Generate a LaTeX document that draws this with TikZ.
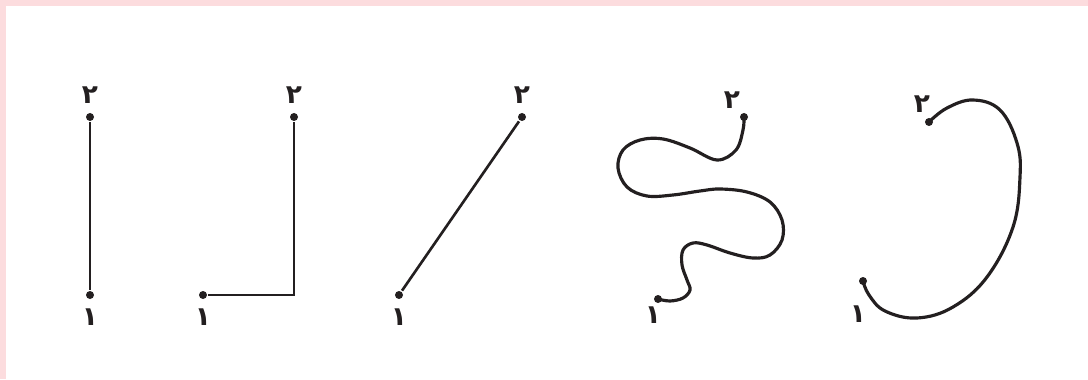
\documentclass[tikz,border=0pt]{standalone}
\usepackage{fontspec}
\TeXXeTstate=1
\newfontfamily\arabicfont[Script=Arabic]{DejaVu Sans}
\usetikzlibrary{positioning}
\definecolor{cpink}{HTML}{FCDCDE}
\definecolor{cink}{HTML}{231F20}
\tikzset{
  every picture/.style={x=0.02cm, y=0.02cm, line width=1.5pt},
  endpt/.style={circle, fill=cink, inner sep=0pt, minimum size=0.16cm},
  num/.style={font=\arabicfont\bfseries\fontsize{15}{15}\selectfont, inner sep=0pt, text=cink},
  wire/.style={draw=cink, line width=1.5pt},
  curve/.style={draw=cink, line width=1.8pt, line cap=round},
}
\begin{document}
\begin{tikzpicture}
  % page and pink frame
  \fill[cpink] (0,0) rectangle (1088,379);
  \fill[white] (6,0) rectangle (1088,373);
  \useasboundingbox (0,0) rectangle (1088,379);
  % straight
  \node[endpt] (a1) at (90,84) {};
  \node[endpt] (a2) at (90,262) {};
  \draw[wire] (a1) -- (a2);
  \node[num, below=0.15cm of a1] (la1) {\beginR ۱\endR};
  \node[num, above=0.13cm of a2] (la2) {\beginR ۲\endR};
  % corner
  \node[endpt] (b1) at (203,84) {};
  \node[endpt] (b2) at (294,262) {};
  \draw[wire] (b1) -| (b2);
  \node[num, below=0.15cm of b1] (lb1) {\beginR ۱\endR};
  \node[num, above=0.13cm of b2] (lb2) {\beginR ۲\endR};
  % slanted
  \node[endpt] (c1) at (399,84) {};
  \node[endpt] (c2) at (522,262) {};
  \draw[wire] (c1) -- (c2);
  \node[num, below=0.15cm of c1] (lc1) {\beginR ۱\endR};
  \node[num, above=0.13cm of c2] (lc2) {\beginR ۲\endR};
  % wiggly
  \node[endpt] (e1) at (658,80) {};
  \node[endpt] (e2) at (744,262) {};
  \draw[curve] plot[smooth, tension=0.6] coordinates {(e2.center) (743,249) (736,229)
    (717,219) (690,231) (663,240) (640,239) (623,229) (618,211) (627,192) (647,183)
    (673,184) (700,188) (720,190) (747,187) (770,177) (782,159) (782,139) (770,124)
    (753,121) (730,126) (707,134) (693,136) (683,129) (682,114) (687,99) (690,89)
    (683,81) (670,78) (e1.center)};
  \node[num, below=0.03cm of e1, xshift=-0.1cm] (le1) {\beginR ۱\endR};
  \node[num, above=0.03cm of e2, xshift=-0.24cm] (le2) {\beginR ۲\endR};
  % open loop
  \node[endpt] (f1) at (863,98) {};
  \node[endpt] (f2) at (929,257) {};
  \draw[curve] plot[smooth, tension=0.65] coordinates {(f2.center) (947,271) (973,279)
    (1000,269) (1017,236) (1020,202) (1013,152) (987,102) (953,72) (917,61) (885,68)
    (869,84) (f1.center)};
  \node[num, below=0.36cm of f1, xshift=-0.1cm] (lf1) {\beginR ۱\endR};
  \node[num, above=0.06cm of f2, xshift=-0.14cm] (lf2) {\beginR ۲\endR};
\end{tikzpicture}
\end{document}
